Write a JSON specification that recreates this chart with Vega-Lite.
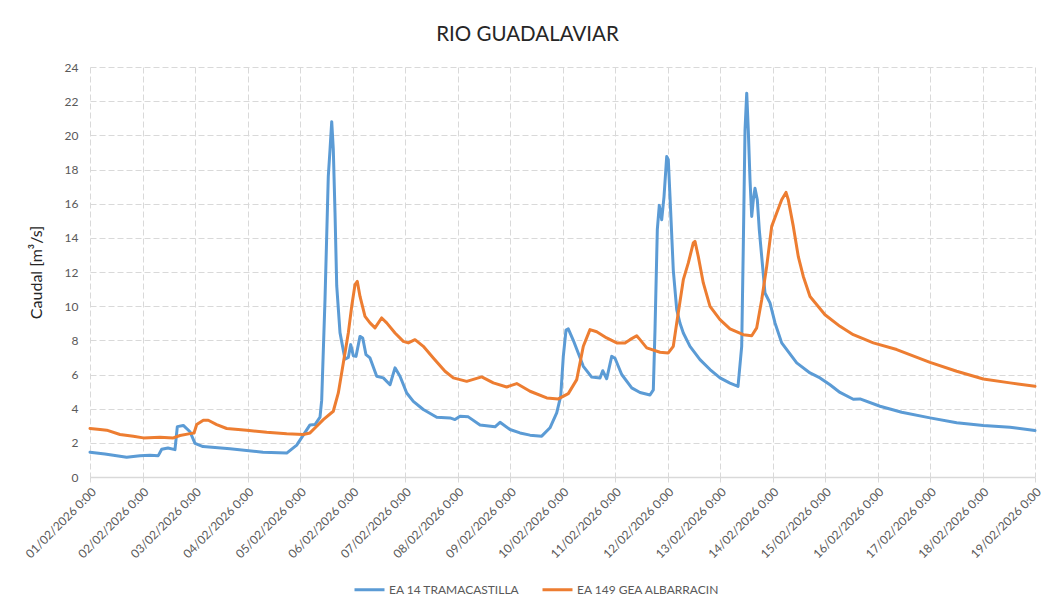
{
  "$schema": "https://vega.github.io/schema/vega-lite/v6.json",
  "width": 945,
  "height": 410,
  "autosize": "none",
  "padding": {"left": 90, "top": 67, "right": 20, "bottom": 133},
  "background": "white",
  "title": {"text": "RIO GUADALAVIAR", "fontSize": 20.5, "font": "Lato", "fontWeight": "normal", "color": "#262626", "anchor": "middle", "frame": "group", "dx": -35, "dy": 24, "offset": 24, "baseline": "alphabetic"},
  "datasets": {
    "tram": [
      {"fecha": "2026-02-01T00:00", "caudal": 1.45},
      {"fecha": "2026-02-01T06:50", "caudal": 1.35},
      {"fecha": "2026-02-01T16:45", "caudal": 1.15},
      {"fecha": "2026-02-01T22:50", "caudal": 1.25},
      {"fecha": "2026-02-02T03:25", "caudal": 1.28},
      {"fecha": "2026-02-02T07:13", "caudal": 1.25},
      {"fecha": "2026-02-02T08:47", "caudal": 1.62},
      {"fecha": "2026-02-02T11:39", "caudal": 1.70},
      {"fecha": "2026-02-02T14:51", "caudal": 1.60},
      {"fecha": "2026-02-02T15:55", "caudal": 2.95},
      {"fecha": "2026-02-02T18:39", "caudal": 3.02},
      {"fecha": "2026-02-02T21:43", "caudal": 2.65},
      {"fecha": "2026-02-03T00:00", "caudal": 1.97},
      {"fecha": "2026-02-03T03:39", "caudal": 1.78},
      {"fecha": "2026-02-03T16:00", "caudal": 1.65},
      {"fecha": "2026-02-04T07:05", "caudal": 1.45},
      {"fecha": "2026-02-04T17:55", "caudal": 1.40},
      {"fecha": "2026-02-04T22:30", "caudal": 1.87},
      {"fecha": "2026-02-05T04:34", "caudal": 3.05},
      {"fecha": "2026-02-05T06:51", "caudal": 3.07},
      {"fecha": "2026-02-05T09:09", "caudal": 3.5},
      {"fecha": "2026-02-05T09:55", "caudal": 4.5},
      {"fecha": "2026-02-05T11:26", "caudal": 10.4},
      {"fecha": "2026-02-05T12:56", "caudal": 17.6},
      {"fecha": "2026-02-05T13:43", "caudal": 19.15},
      {"fecha": "2026-02-05T14:30", "caudal": 20.8},
      {"fecha": "2026-02-05T15:13", "caudal": 19.2},
      {"fecha": "2026-02-05T16:00", "caudal": 15.5},
      {"fecha": "2026-02-05T16:47", "caudal": 11.2},
      {"fecha": "2026-02-05T18:17", "caudal": 8.45},
      {"fecha": "2026-02-05T20:34", "caudal": 6.9},
      {"fecha": "2026-02-05T22:05", "caudal": 7.0},
      {"fecha": "2026-02-05T23:11", "caudal": 7.75},
      {"fecha": "2026-02-06T00:22", "caudal": 7.1},
      {"fecha": "2026-02-06T01:36", "caudal": 7.06},
      {"fecha": "2026-02-06T03:26", "caudal": 8.23},
      {"fecha": "2026-02-06T04:40", "caudal": 8.14},
      {"fecha": "2026-02-06T06:10", "caudal": 7.16},
      {"fecha": "2026-02-06T08:00", "caudal": 6.97},
      {"fecha": "2026-02-06T11:04", "caudal": 5.9},
      {"fecha": "2026-02-06T14:05", "caudal": 5.8},
      {"fecha": "2026-02-06T17:09", "caudal": 5.4},
      {"fecha": "2026-02-06T19:26", "caudal": 6.39},
      {"fecha": "2026-02-06T21:43", "caudal": 5.9},
      {"fecha": "2026-02-07T00:47", "caudal": 4.92},
      {"fecha": "2026-02-07T03:48", "caudal": 4.43},
      {"fecha": "2026-02-07T08:22", "caudal": 3.95},
      {"fecha": "2026-02-07T14:30", "caudal": 3.5},
      {"fecha": "2026-02-07T20:34", "caudal": 3.46},
      {"fecha": "2026-02-07T22:51", "caudal": 3.36},
      {"fecha": "2026-02-08T01:09", "caudal": 3.56},
      {"fecha": "2026-02-08T04:56", "caudal": 3.52},
      {"fecha": "2026-02-08T10:17", "caudal": 3.05},
      {"fecha": "2026-02-08T17:09", "caudal": 2.94},
      {"fecha": "2026-02-08T19:26", "caudal": 3.2},
      {"fecha": "2026-02-09T00:00", "caudal": 2.78},
      {"fecha": "2026-02-09T04:34", "caudal": 2.58},
      {"fecha": "2026-02-09T09:09", "caudal": 2.45},
      {"fecha": "2026-02-09T14:30", "caudal": 2.39},
      {"fecha": "2026-02-09T18:17", "caudal": 2.88},
      {"fecha": "2026-02-09T21:21", "caudal": 3.75},
      {"fecha": "2026-02-09T23:11", "caudal": 4.73},
      {"fecha": "2026-02-10T00:22", "caudal": 7.06},
      {"fecha": "2026-02-10T01:36", "caudal": 8.6},
      {"fecha": "2026-02-10T02:39", "caudal": 8.67},
      {"fecha": "2026-02-10T04:56", "caudal": 8.0},
      {"fecha": "2026-02-10T09:31", "caudal": 6.48},
      {"fecha": "2026-02-10T13:21", "caudal": 5.85},
      {"fecha": "2026-02-10T17:09", "caudal": 5.8},
      {"fecha": "2026-02-10T18:23", "caudal": 6.22},
      {"fecha": "2026-02-10T20:12", "caudal": 5.75},
      {"fecha": "2026-02-10T22:30", "caudal": 7.06},
      {"fecha": "2026-02-11T00:00", "caudal": 6.95},
      {"fecha": "2026-02-11T03:04", "caudal": 6.0},
      {"fecha": "2026-02-11T07:38", "caudal": 5.22},
      {"fecha": "2026-02-11T11:26", "caudal": 4.95},
      {"fecha": "2026-02-11T16:00", "caudal": 4.8},
      {"fecha": "2026-02-11T17:31", "caudal": 5.1},
      {"fecha": "2026-02-11T18:17", "caudal": 8.6},
      {"fecha": "2026-02-11T19:21", "caudal": 14.5},
      {"fecha": "2026-02-11T20:15", "caudal": 15.9},
      {"fecha": "2026-02-11T21:21", "caudal": 15.06},
      {"fecha": "2026-02-11T22:24", "caudal": 16.4},
      {"fecha": "2026-02-11T23:38", "caudal": 18.76},
      {"fecha": "2026-02-12T00:22", "caudal": 18.57},
      {"fecha": "2026-02-12T01:09", "caudal": 16.4},
      {"fecha": "2026-02-12T02:39", "caudal": 12.1},
      {"fecha": "2026-02-12T04:13", "caudal": 9.8},
      {"fecha": "2026-02-12T05:43", "caudal": 9.0},
      {"fecha": "2026-02-12T07:14", "caudal": 8.43},
      {"fecha": "2026-02-12T10:17", "caudal": 7.65},
      {"fecha": "2026-02-12T14:51", "caudal": 6.87},
      {"fecha": "2026-02-12T19:26", "caudal": 6.29},
      {"fecha": "2026-02-13T00:00", "caudal": 5.8},
      {"fecha": "2026-02-13T04:34", "caudal": 5.5},
      {"fecha": "2026-02-13T08:14", "caudal": 5.3},
      {"fecha": "2026-02-13T09:55", "caudal": 7.65},
      {"fecha": "2026-02-13T10:39", "caudal": 13.5},
      {"fecha": "2026-02-13T11:26", "caudal": 20.3},
      {"fecha": "2026-02-13T12:13", "caudal": 22.47},
      {"fecha": "2026-02-13T12:56", "caudal": 20.3},
      {"fecha": "2026-02-13T13:43", "caudal": 17.4},
      {"fecha": "2026-02-13T14:30", "caudal": 15.25},
      {"fecha": "2026-02-13T15:14", "caudal": 16.23},
      {"fecha": "2026-02-13T16:00", "caudal": 16.9},
      {"fecha": "2026-02-13T17:03", "caudal": 16.23},
      {"fecha": "2026-02-13T17:58", "caudal": 14.47},
      {"fecha": "2026-02-13T19:04", "caudal": 12.9},
      {"fecha": "2026-02-13T20:34", "caudal": 10.77},
      {"fecha": "2026-02-13T22:51", "caudal": 10.19},
      {"fecha": "2026-02-14T01:09", "caudal": 9.02},
      {"fecha": "2026-02-14T04:12", "caudal": 7.85},
      {"fecha": "2026-02-14T11:04", "caudal": 6.68},
      {"fecha": "2026-02-14T17:09", "caudal": 6.09},
      {"fecha": "2026-02-14T21:43", "caudal": 5.8},
      {"fecha": "2026-02-15T02:17", "caudal": 5.4},
      {"fecha": "2026-02-15T06:51", "caudal": 4.95},
      {"fecha": "2026-02-15T12:56", "caudal": 4.55},
      {"fecha": "2026-02-15T16:00", "caudal": 4.57},
      {"fecha": "2026-02-16T01:09", "caudal": 4.14},
      {"fecha": "2026-02-16T11:04", "caudal": 3.79},
      {"fecha": "2026-02-17T00:00", "caudal": 3.46},
      {"fecha": "2026-02-17T12:12", "caudal": 3.17},
      {"fecha": "2026-02-18T00:22", "caudal": 3.01},
      {"fecha": "2026-02-18T12:34", "caudal": 2.91},
      {"fecha": "2026-02-19T00:00", "caudal": 2.72}
    ],
    "gea": [
      {"fecha": "2026-02-01T00:00", "caudal": 2.84},
      {"fecha": "2026-02-01T04:34", "caudal": 2.78},
      {"fecha": "2026-02-01T07:38", "caudal": 2.74},
      {"fecha": "2026-02-01T13:43", "caudal": 2.49},
      {"fecha": "2026-02-01T19:48", "caudal": 2.39},
      {"fecha": "2026-02-02T00:22", "caudal": 2.29},
      {"fecha": "2026-02-02T08:00", "caudal": 2.33},
      {"fecha": "2026-02-02T14:05", "caudal": 2.29},
      {"fecha": "2026-02-02T17:09", "caudal": 2.43},
      {"fecha": "2026-02-02T21:43", "caudal": 2.54},
      {"fecha": "2026-02-02T23:33", "caudal": 2.58},
      {"fecha": "2026-02-03T00:47", "caudal": 3.07},
      {"fecha": "2026-02-03T03:48", "caudal": 3.32},
      {"fecha": "2026-02-03T06:05", "caudal": 3.32},
      {"fecha": "2026-02-03T09:55", "caudal": 3.07},
      {"fecha": "2026-02-03T14:30", "caudal": 2.84},
      {"fecha": "2026-02-03T23:38", "caudal": 2.74},
      {"fecha": "2026-02-04T08:47", "caudal": 2.62},
      {"fecha": "2026-02-04T17:55", "caudal": 2.53},
      {"fecha": "2026-02-05T01:31", "caudal": 2.49},
      {"fecha": "2026-02-05T04:34", "caudal": 2.58},
      {"fecha": "2026-02-05T07:38", "caudal": 2.97},
      {"fecha": "2026-02-05T10:39", "caudal": 3.36},
      {"fecha": "2026-02-05T15:13", "caudal": 3.85},
      {"fecha": "2026-02-05T17:31", "caudal": 4.92},
      {"fecha": "2026-02-05T19:48", "caudal": 6.68},
      {"fecha": "2026-02-05T22:05", "caudal": 8.43},
      {"fecha": "2026-02-05T23:38", "caudal": 9.99},
      {"fecha": "2026-02-06T01:09", "caudal": 11.26},
      {"fecha": "2026-02-06T02:12", "caudal": 11.45},
      {"fecha": "2026-02-06T03:26", "caudal": 10.57},
      {"fecha": "2026-02-06T05:43", "caudal": 9.4},
      {"fecha": "2026-02-06T08:00", "caudal": 9.02},
      {"fecha": "2026-02-06T10:17", "caudal": 8.73},
      {"fecha": "2026-02-06T13:21", "caudal": 9.31},
      {"fecha": "2026-02-06T15:38", "caudal": 9.02},
      {"fecha": "2026-02-06T19:26", "caudal": 8.43},
      {"fecha": "2026-02-06T23:14", "caudal": 7.94},
      {"fecha": "2026-02-07T01:31", "caudal": 7.85},
      {"fecha": "2026-02-07T04:34", "caudal": 8.04},
      {"fecha": "2026-02-07T08:22", "caudal": 7.65},
      {"fecha": "2026-02-07T12:56", "caudal": 6.97},
      {"fecha": "2026-02-07T18:17", "caudal": 6.19},
      {"fecha": "2026-02-07T22:05", "caudal": 5.8},
      {"fecha": "2026-02-08T04:12", "caudal": 5.6},
      {"fecha": "2026-02-08T11:04", "caudal": 5.86},
      {"fecha": "2026-02-08T16:22", "caudal": 5.51},
      {"fecha": "2026-02-08T22:29", "caudal": 5.27},
      {"fecha": "2026-02-09T03:04", "caudal": 5.47},
      {"fecha": "2026-02-09T09:09", "caudal": 5.02},
      {"fecha": "2026-02-09T16:47", "caudal": 4.63},
      {"fecha": "2026-02-09T22:05", "caudal": 4.57},
      {"fecha": "2026-02-10T02:39", "caudal": 4.88},
      {"fecha": "2026-02-10T06:30", "caudal": 5.7},
      {"fecha": "2026-02-10T09:31", "caudal": 7.65},
      {"fecha": "2026-02-10T12:34", "caudal": 8.63},
      {"fecha": "2026-02-10T15:38", "caudal": 8.5},
      {"fecha": "2026-02-10T20:12", "caudal": 8.14},
      {"fecha": "2026-02-11T00:47", "caudal": 7.85},
      {"fecha": "2026-02-11T04:34", "caudal": 7.85},
      {"fecha": "2026-02-11T06:51", "caudal": 8.04},
      {"fecha": "2026-02-11T09:55", "caudal": 8.27},
      {"fecha": "2026-02-11T11:26", "caudal": 8.04},
      {"fecha": "2026-02-11T14:30", "caudal": 7.56},
      {"fecha": "2026-02-11T20:34", "caudal": 7.3},
      {"fecha": "2026-02-12T00:22", "caudal": 7.26},
      {"fecha": "2026-02-12T02:39", "caudal": 7.65},
      {"fecha": "2026-02-12T04:13", "caudal": 9.02},
      {"fecha": "2026-02-12T07:14", "caudal": 11.55},
      {"fecha": "2026-02-12T09:31", "caudal": 12.53},
      {"fecha": "2026-02-12T11:48", "caudal": 13.7},
      {"fecha": "2026-02-12T12:34", "caudal": 13.79},
      {"fecha": "2026-02-12T14:05", "caudal": 12.9},
      {"fecha": "2026-02-12T16:22", "caudal": 11.36},
      {"fecha": "2026-02-12T19:26", "caudal": 9.99},
      {"fecha": "2026-02-13T00:00", "caudal": 9.21},
      {"fecha": "2026-02-13T04:34", "caudal": 8.67},
      {"fecha": "2026-02-13T10:39", "caudal": 8.33},
      {"fecha": "2026-02-13T14:30", "caudal": 8.27},
      {"fecha": "2026-02-13T16:47", "caudal": 8.73},
      {"fecha": "2026-02-13T19:04", "caudal": 10.38},
      {"fecha": "2026-02-13T21:21", "caudal": 12.33},
      {"fecha": "2026-02-13T23:38", "caudal": 14.67},
      {"fecha": "2026-02-14T01:55", "caudal": 15.45},
      {"fecha": "2026-02-14T04:12", "caudal": 16.23},
      {"fecha": "2026-02-14T06:10", "caudal": 16.66},
      {"fecha": "2026-02-14T07:13", "caudal": 16.23},
      {"fecha": "2026-02-14T09:31", "caudal": 14.67},
      {"fecha": "2026-02-14T11:48", "caudal": 12.9},
      {"fecha": "2026-02-14T14:05", "caudal": 11.74},
      {"fecha": "2026-02-14T17:09", "caudal": 10.57},
      {"fecha": "2026-02-15T00:00", "caudal": 9.5},
      {"fecha": "2026-02-15T06:51", "caudal": 8.82},
      {"fecha": "2026-02-15T12:56", "caudal": 8.33},
      {"fecha": "2026-02-15T22:05", "caudal": 7.85},
      {"fecha": "2026-02-16T08:47", "caudal": 7.46},
      {"fecha": "2026-02-17T00:00", "caudal": 6.71},
      {"fecha": "2026-02-17T12:12", "caudal": 6.19},
      {"fecha": "2026-02-18T00:22", "caudal": 5.74},
      {"fecha": "2026-02-18T12:34", "caudal": 5.51},
      {"fecha": "2026-02-19T00:00", "caudal": 5.31}
    ]
  },
  "encoding": {
    "x": {
      "field": "fecha",
      "type": "temporal",
      "scale": {"domain": [{"year": 2026, "month": 2, "date": 1}, {"year": 2026, "month": 2, "date": 19}], "nice": false},
      "axis": {"title": null, "format": "%d/%m/%Y %-H:%M", "tickCount": {"interval": "day", "step": 1}, "labelOverlap": false}
    },
    "y": {
      "field": "caudal",
      "type": "quantitative",
      "scale": {"domain": [0, 24], "nice": false},
      "axis": {"title": "Caudal [m³/s]", "values": [0, 2, 4, 6, 8, 10, 12, 14, 16, 18, 20, 22, 24]}
    }
  },
  "layer": [
    {
      "data": {"name": "tram"},
      "mark": {"type": "line", "strokeWidth": 3, "strokeJoin": "round", "strokeCap": "round"},
      "encoding": {
        "color": {
          "datum": "EA 14 TRAMACASTILLA",
          "scale": {"domain": ["EA 14 TRAMACASTILLA", "EA 149 GEA ALBARRACIN"], "range": ["#5b9bd5", "#ed7d31"]},
          "legend": {
            "title": null,
            "orient": "none",
            "direction": "horizontal",
            "legendX": 263,
            "legendY": 506,
            "symbolType": "stroke",
            "symbolSize": 900,
            "symbolStrokeWidth": 3,
            "labelFontSize": 12,
            "labelFont": "Lato",
            "labelColor": "#595959",
            "labelOffset": 3,
            "columnPadding": 16
          }
        }
      }
    },
    {
      "data": {"name": "gea"},
      "mark": {"type": "line", "strokeWidth": 3, "strokeJoin": "round", "strokeCap": "round"},
      "encoding": {"color": {"datum": "EA 149 GEA ALBARRACIN"}}
    }
  ],
  "config": {
    "font": "Lato",
    "view": {"stroke": null},
    "axis": {
      "labelFont": "Lato",
      "titleFont": "Lato",
      "labelColor": "#595959",
      "labelFontSize": 12,
      "gridColor": "#d9d9d9",
      "gridDash": [6, 3],
      "gridWidth": 1,
      "domainColor": "#d9d9d9",
      "tickColor": "#d9d9d9"
    },
    "axisY": {"domain": false, "ticks": false, "labelPadding": 12, "titleFontSize": 16, "titleFontWeight": "normal", "titleColor": "#262626", "titlePadding": 20},
    "axisX": {"labelAngle": -45, "tickSize": 5, "labelPadding": 4, "domainWidth": 1.5}
  }
}
